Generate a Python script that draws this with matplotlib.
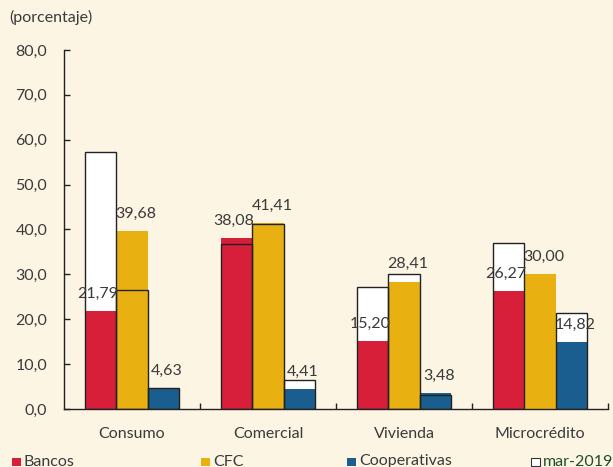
import numpy as np
import matplotlib
matplotlib.use("Agg")
import matplotlib.pyplot as plt
from matplotlib.patches import Rectangle

categories = ["Consumo", "Comercial", "Vivienda", "Microcrédito"]
series_names = ["Bancos", "CFC", "Cooperativas"]
bancos = [21.79, 38.08, 15.20, 26.27]
cfc = [39.68, 41.41, 28.41, 30.00]
cooperativas = [4.63, 4.41, 3.48, 14.82]
# mar-2019 reference values (outlined bars)
bancos_mar19 = [57.2, 36.7, 27.1, 37.1]
cfc_mar19 = [26.6, 41.3, 30.1, np.nan]
coop_mar19 = [4.6, 6.5, 3.2, 21.3]
ref_label = "mar-2019"
y_label = "(porcentaje)"
y_ticks = [0, 10, 20, 30, 40, 50, 60, 70, 80]

colors = ["#d71f3a", "#e9b012", "#195e8e"]
bg = "#fdf5e4"
txt = "#3a3a3a"
FONT = ["Lato", "DejaVu Sans"]
plt.rcParams["font.family"] = FONT

W, H = 613, 467
fig = plt.figure(figsize=(W / 100, H / 100), dpi=100, facecolor=bg)
ax = fig.add_axes([64 / W, (H - 409) / H, (608 - 64) / W, (409 - 50) / H])
ax.set_facecolor(bg)

x = np.arange(len(categories))
bw = 0.228
offsets = [-bw, 0, bw]
current = [bancos, cfc, cooperativas]
previous = [bancos_mar19, cfc_mar19, coop_mar19]
label_dx = [-3, 4, 4]

for k in range(3):
    xs = x + offsets[k]
    prev = np.array(previous[k], dtype=float)
    ax.bar(xs, prev, width=bw, color="white", edgecolor="none", zorder=1)
    ax.bar(xs, current[k], width=bw, color=colors[k], edgecolor="none", zorder=2)
    ax.bar(xs, prev, width=bw, facecolor="none", edgecolor="#222222", linewidth=1.0, zorder=3)
    for xi, v in zip(xs, current[k]):
        ax.annotate(f"{v:.2f}".replace(".", ","), (xi, v), xytext=(label_dx[k] * 0.72, 12.5),
                    textcoords="offset points", ha="center", va="center",
                    fontsize=11.5, color=txt, zorder=4)

ax.set_xlim(-0.5, 3.5)
ax.set_ylim(0, 80)
for s in ["top", "right"]:
    ax.spines[s].set_visible(False)
for s in ["left", "bottom"]:
    ax.spines[s].set_color("#222222")
    ax.spines[s].set_linewidth(1.0)

ax.set_yticks(y_ticks)
ax.set_yticklabels([f"{t:.1f}".replace(".", ",") for t in y_ticks])
ax.tick_params(axis="y", direction="in", length=4, width=1, color="#222222",
               labelsize=11.5, labelcolor=txt, pad=12)

ax.set_xticks([0.5, 1.5, 2.5, 3.5])
ax.set_xticklabels([])
ax.tick_params(axis="x", which="major", direction="in", length=4, width=1, color="#222222")
ax.set_xticks(x, minor=True)
ax.set_xticklabels(categories, minor=True)
ax.tick_params(axis="x", which="minor", length=0, labelsize=11.5, labelcolor=txt, pad=13)

fig.text(9 / W, 1 - 17 / H, y_label, ha="left", va="center", fontsize=11.5, color=txt)

# legend
leg_x = [12, 201, 347, 531]
leg_colors = colors + ["white"]
leg_names = series_names + [ref_label]
leg_txt_colors = [txt, txt, txt, "#1d4f2c"]
for lx, c, name, tc in zip(leg_x, leg_colors, leg_names, leg_txt_colors):
    ec = "#333333" if c == "white" else "none"
    fig.patches.append(Rectangle((lx / W, (H - 466) / H), 8.5 / W, 8.5 / H,
                                 transform=fig.transFigure, facecolor=c, edgecolor=ec,
                                 linewidth=0.8, figure=fig))
    fig.text((lx + 12) / W, 1.5 / H, name, ha="left", va="baseline", fontsize=11.5, color=tc)

fig.savefig("out.png", dpi=100, facecolor=bg)
